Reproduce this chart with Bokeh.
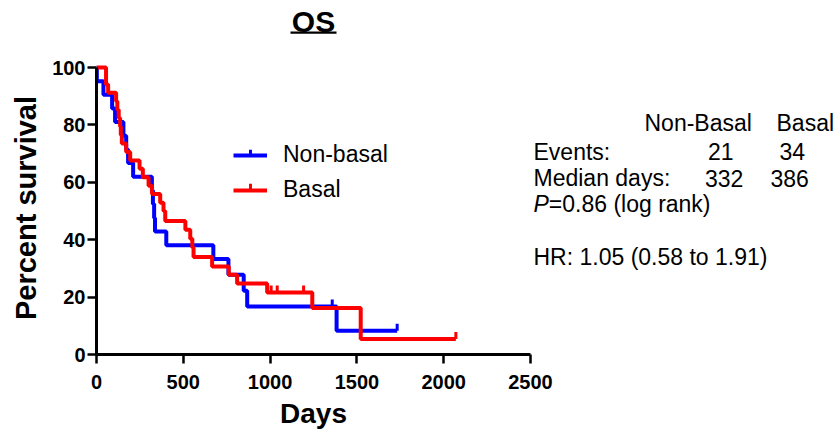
from bokeh.plotting import figure
from bokeh.layouts import row, column
from bokeh.models import Range1d, FixedTicker, Legend, LegendItem, Label, BoxAnnotation
from bokeh.embed import file_html
from bokeh.resources import INLINE
import math

# ---------------- data ----------------
title_text = "OS"
x_label = "Days"
y_label = "Percent survival"
groups = ["Non-basal", "Basal"]
table_groups = ["Non-Basal", "Basal"]
events = [21, 34]
median_days = [332, 386]
p_value = 0.86
hr_text = "HR: 1.05 (0.58 to 1.91)"

nb_days = [0, 2, 40, 90, 107, 155, 171, 182, 211, 319, 325, 332, 337, 402, 673, 760, 848, 868, 1383, 1732]
nb_surv = [100, 95.2, 90.5, 85.7, 81.0, 76.2, 71.4, 66.7, 61.9, 57.1, 52.4, 47.6, 42.9, 38.1, 33.3, 27.8, 22.2, 16.7, 8.3, 8.3]
nb_cens_days = [1358, 1732]
nb_cens_surv = [16.7, 8.3]

b_days = [0, 55, 67, 113, 120, 128, 136, 140, 146, 171, 194, 248, 267, 300, 320, 367, 386, 396, 512, 540, 552, 559, 666, 762, 810, 983, 1243, 1522, 2070]
b_surv = [100, 94.1, 91.2, 88.2, 85.3, 82.4, 79.4, 76.5, 73.5, 70.6, 67.6, 64.7, 61.8, 58.8, 55.9, 52.9, 50.0, 46.5, 43.5, 40.3, 37.3, 34.0, 30.7, 27.8, 24.7, 21.6, 16.2, 5.4, 5.4]
b_cens_days = [1006, 1041, 1193, 2070]
b_cens_surv = [21.6, 21.6, 21.6, 5.4]

x_ticks = [0, 500, 1000, 1500, 2000, 2500]
y_ticks = [0, 20, 40, 60, 80, 100]

# ---------------- layout (canvas pixels) ----------------
FONT = "Liberation Sans"
W, H = 836, 432
LW = 45                   # left strip (y-axis title)
CH = 396                  # height of the chart figure; the x-axis title strip is below it
FL, FB = 96, 354          # chart frame left / bottom
X2500 = 530               # canvas x of the 2500 tick
Y100 = 67                 # canvas y of the 100 tick
X_END = 2500.0 * (W - FL) / (X2500 - FL)
Y_END = 100.0 * FB / (FB - Y100)
PX_PER_UNIT = (FB - Y100) / 100.0
TICK = 7 / PX_PER_UNIT
BLUE, RED = "#0000FF", "#FF0000"


def blank(width, height):
    f = figure(width=width, height=height, output_backend="svg", toolbar_location=None,
               x_range=Range1d(0, width), y_range=Range1d(0, height),
               x_axis_location=None, y_axis_location=None,
               min_border_left=0, min_border_right=0, min_border_top=0, min_border_bottom=0,
               background_fill_color="white", border_fill_color="white")
    f.outline_line_color = None
    f.grid.visible = False
    return f


def label(fig, s, x, y, size="23px", style="normal", align="left", angle=0.0):
    fig.add_layout(Label(x=x, y=y, x_units="screen", y_units="screen", text=s,
                         text_font=FONT, text_font_size=size, text_font_style=style,
                         text_baseline="middle", text_align=align, text_color="black",
                         angle=angle))


# ---------- main chart ----------
p = figure(width=W - LW, height=CH, output_backend="svg", toolbar_location=None,
           x_range=Range1d(0, X_END), y_range=Range1d(0, Y_END),
           min_border_left=FL - LW, min_border_right=0,
           min_border_top=0, min_border_bottom=CH - FB,
           background_fill_color="white", border_fill_color="white")
p.outline_line_color = None
p.xgrid.visible = False
p.ygrid.visible = False

p.xaxis.ticker = FixedTicker(ticks=x_ticks)
p.yaxis.ticker = FixedTicker(ticks=y_ticks)
p.xaxis.bounds = (0, 2500)
p.yaxis.bounds = (0, 100)
for ax in (p.xaxis[0], p.yaxis[0]):
    ax.axis_line_width = 3
    ax.axis_line_color = "black"
    ax.major_tick_line_width = 2.5
    ax.major_tick_line_color = "black"
    ax.major_tick_in = 0
    ax.major_tick_out = 9
    ax.minor_tick_line_color = None
    ax.major_label_text_font = FONT
    ax.major_label_text_font_style = "bold"
    ax.major_label_text_font_size = "20px"
    ax.major_label_text_color = "black"
p.xaxis.major_label_standoff = 11
p.yaxis.major_label_standoff = 2


def sx(x):
    return x - FL


def sy(y):
    return FB - y


def box(l, r, t, b, color):
    p.add_layout(BoxAnnotation(left=sx(l), right=sx(r), top=sy(t), bottom=sy(b),
                               left_units="screen", right_units="screen",
                               top_units="screen", bottom_units="screen",
                               fill_color=color, fill_alpha=1, line_color=None,
                               level="overlay"))


# title (underlined)
label(p, title_text, sx(313), sy(20.5), size="30px", style="bold", align="center")
box(290, 336, 31, 33.3, "black")

# curves
r_nb = p.step(x=nb_days, y=nb_surv, mode="after", line_color=BLUE, line_width=4)
p.segment(x0=nb_cens_days, y0=nb_cens_surv, x1=nb_cens_days,
          y1=[s + TICK for s in nb_cens_surv], line_color=BLUE, line_width=3)
r_b = p.step(x=b_days, y=b_surv, mode="after", line_color=RED, line_width=4)
p.segment(x0=b_cens_days, y0=b_cens_surv, x1=b_cens_days,
          y1=[s + TICK for s in b_cens_surv], line_color=RED, line_width=3)

# legend
LEG_X, LEG_TOP, ROW_H, GAP = 233, 143.3, 26, 8
legend = Legend(items=[LegendItem(label=groups[0], renderers=[r_nb]),
                       LegendItem(label=groups[1], renderers=[r_b])],
                location=(sx(LEG_X), sy(LEG_TOP + 2 * ROW_H + GAP)),
                glyph_width=34, glyph_height=ROW_H,
                label_height=ROW_H, label_standoff=16, spacing=GAP, padding=0, margin=0,
                border_line_color=None, background_fill_alpha=0,
                label_text_font=FONT, label_text_font_size="23px", label_text_color="black")
p.add_layout(legend)
for i, c in enumerate([BLUE, RED]):
    cy = LEG_TOP + ROW_H / 2 + i * (ROW_H + GAP)
    box(LEG_X + 15.5, LEG_X + 18.5, cy - 7, cy, c)

# stats text
label(p, table_groups[0], sx(644), sy(122.5))
label(p, table_groups[1], sx(776), sy(122.5))
label(p, "Events:", sx(533), sy(151))
label(p, str(events[0]), sx(707.5), sy(151))
label(p, str(events[1]), sx(779), sy(151))
label(p, "Median days:", sx(533), sy(177.5))
label(p, str(median_days[0]), sx(704.5), sy(177.5))
label(p, str(median_days[1]), sx(770), sy(177.5))
label(p, "P", sx(533), sy(203.5), style="italic")
label(p, "=%.2f (log rank)" % p_value, sx(548.3), sy(203.5))
label(p, hr_text, sx(533), sy(256))

# ---------- axis titles ----------
left = blank(LW, H)
label(left, y_label, 25.5, H - 207.5, size="29px", style="bold", align="center", angle=math.pi / 2)

# the bottom strip's frame is aligned with the chart frame (starts at canvas x = FL)
bottom = blank(W - LW, H - CH)
label(bottom, x_label, 313 - FL, H - 412.5, size="28px", style="bold", align="center")

layout = row(left, column(p, bottom, spacing=0), spacing=0)

open("out.html", "w").write(file_html(layout, INLINE))
